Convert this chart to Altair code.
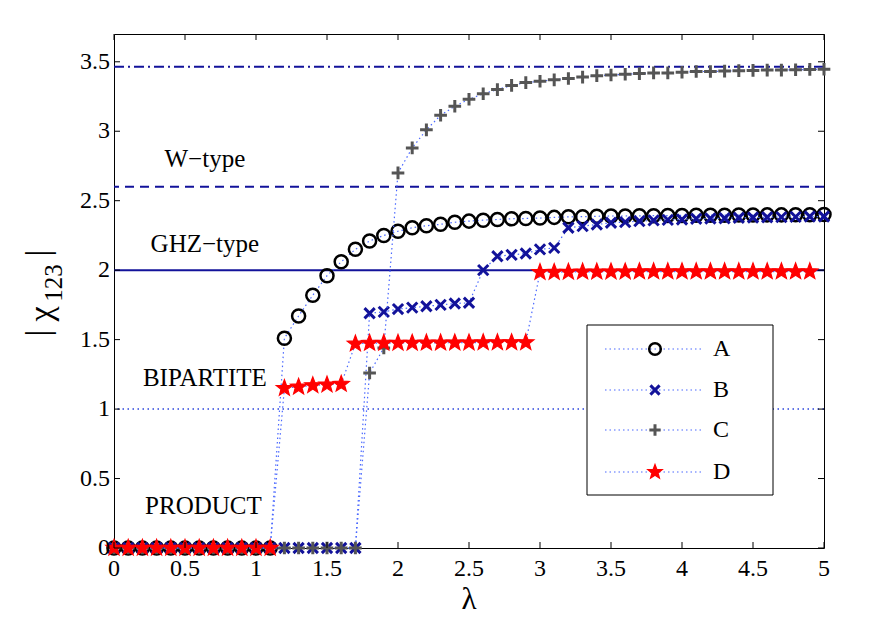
import math
import altair as alt
import pandas as pd

# ---------------- data ----------------
lam = [0.0, 0.1, 0.2, 0.3, 0.4, 0.5, 0.6, 0.7, 0.8, 0.9,
       1.0, 1.1, 1.2, 1.3, 1.4, 1.5, 1.6, 1.7, 1.8, 1.9,
       2.0, 2.1, 2.2, 2.3, 2.4, 2.5, 2.6, 2.7, 2.8, 2.9,
       3.0, 3.1, 3.2, 3.3, 3.4, 3.5, 3.6, 3.7, 3.8, 3.9,
       4.0, 4.1, 4.2, 4.3, 4.4, 4.5, 4.6, 4.7, 4.8, 4.9, 5.0]

series_A = [0, 0, 0, 0, 0, 0, 0, 0, 0, 0, 0, 0,
            1.51, 1.67, 1.82, 1.96, 2.06, 2.15, 2.21, 2.25, 2.28, 2.305,
            2.32, 2.33, 2.345, 2.353, 2.36, 2.365, 2.37, 2.372, 2.375, 2.38,
            2.384, 2.385, 2.388, 2.39, 2.39, 2.391, 2.392, 2.393, 2.394, 2.395,
            2.396, 2.396, 2.397, 2.397, 2.398, 2.398, 2.399, 2.399, 2.40]

series_B = [0, 0, 0, 0, 0, 0, 0, 0, 0, 0, 0, 0, 0, 0, 0, 0, 0, 0,
            1.69, 1.70, 1.72, 1.73, 1.74, 1.75, 1.76, 1.765,
            2.00, 2.10, 2.11, 2.12, 2.15, 2.16,
            2.305, 2.317, 2.329, 2.341, 2.346, 2.353, 2.358, 2.362, 2.365, 2.370,
            2.372, 2.374, 2.377, 2.379, 2.381, 2.382, 2.384, 2.386, 2.386]

series_C = [0, 0, 0, 0, 0, 0, 0, 0, 0, 0, 0, 0, 0, 0, 0, 0, 0, 0,
            1.26, 1.44, 2.70, 2.88, 3.01, 3.115, 3.18, 3.23, 3.27, 3.30,
            3.33, 3.35, 3.36, 3.37, 3.38, 3.39, 3.40, 3.405, 3.41, 3.415,
            3.42, 3.42, 3.425, 3.43, 3.43, 3.433, 3.436, 3.438, 3.44, 3.44,
            3.443, 3.445, 3.446]

series_D = [0, 0, 0, 0, 0, 0, 0, 0, 0, 0, 0, 0,
            1.15, 1.16, 1.17, 1.175, 1.18,
            1.47, 1.475, 1.475, 1.476, 1.476, 1.477, 1.477, 1.478, 1.478, 1.479,
            1.479, 1.48, 1.48,
            1.985, 1.986, 1.987, 1.988, 1.988, 1.989, 1.989, 1.99, 1.99, 1.99,
            1.99, 1.99, 1.99, 1.99, 1.99, 1.99, 1.99, 1.99, 1.99, 1.99]

series_names = ["A", "B", "C", "D"]

ref_levels = [3.464, 2.6, 2.0, 1.0]   # dash-dot, dashed, solid, dotted

ann_text = ["W\u2212type", "GHZ\u2212type", "BIPARTITE", "PRODUCT"]
ann_x = [0.64, 0.64, 0.64, 0.63]
ann_y = [2.80, 2.185, 1.226, 0.303]

x_ticks = [0, 0.5, 1, 1.5, 2, 2.5, 3, 3.5, 4, 4.5, 5]
x_tick_labels = ["0", "0.5", "1", "1.5", "2", "2.5", "3", "3.5", "4", "4.5", "5"]
y_ticks = [0, 0.5, 1, 1.5, 2, 2.5, 3, 3.5]
y_tick_labels = ["0", "0.5", "1", "1.5", "2", "2.5", "3", "3.5"]

x_title = "\u03bb"
y_title_parts = ["|", "\u03c7", "123", "|"]

# ---------------- styling ----------------
W, H = 710, 514
FONT = "Liberation Serif"
NAVY = "#12129a"
DOT_BLUE = "#4a68ff"

xs = alt.Scale(domain=[0, 5], nice=False, zero=False)
ys = alt.Scale(domain=[0, 3.7], nice=False, zero=False)


def X(field):
    return alt.X(field, type="quantitative", scale=xs, axis=None)


def Y(field):
    return alt.Y(field, type="quantitative", scale=ys, axis=None)


# marker paths
star_pts = []
for k in range(10):
    a = math.radians(-90 + 36 * k)
    r = 1.0 if k % 2 == 0 else 0.42
    star_pts.append(f"{r * math.cos(a):.3f},{r * math.sin(a):.3f}")
STAR = "M" + "L".join(star_pts) + "Z"
XMARK = "M-1,-1L1,1M-1,1L1,-1"
PLUS = "M-1,0L1,0M0,-1L0,1"

marker_style = {
    "A": dict(shape="circle", filled=False, stroke="black", strokeWidth=2.5, size=170),
    "B": dict(shape=XMARK, filled=False, stroke=NAVY, strokeWidth=3, size=105),
    "C": dict(shape=PLUS, filled=False, stroke="#555555", strokeWidth=3, size=160),
    "D": dict(shape=STAR, filled=True, fill="#ff0000", stroke="#ff0000", strokeWidth=1.2, size=290),
}

values = {"A": series_A, "B": series_B, "C": series_C, "D": series_D}

layers = []

# reference lines
ref_styles = [
    dict(color=NAVY, strokeWidth=2, strokeDash=[10, 4, 2, 4]),
    dict(color=NAVY, strokeWidth=2, strokeDash=[9, 6]),
    dict(color=NAVY, strokeWidth=2),
    dict(color="#2a44dd", strokeWidth=1.5, strokeDash=[1.5, 3.5]),
]
for lev, st in zip(ref_levels, ref_styles):
    layers.append(alt.Chart(pd.DataFrame({"v": [lev]})).mark_rule(**st).encode(y=Y("v")))

# series
for name in series_names:
    vals = values[name]
    df = pd.DataFrame({"lam": lam[:len(vals)], "val": vals})
    layers.append(alt.Chart(df).mark_line(color=DOT_BLUE, strokeWidth=1.2,
                                          strokeDash=[1.5, 3]).encode(x=X("lam"), y=Y("val")))
    layers.append(alt.Chart(df).mark_point(opacity=1, **marker_style[name]).encode(x=X("lam"), y=Y("val")))

# annotations
ann_df = pd.DataFrame({"t": ann_text, "ax": ann_x, "ay": ann_y})
layers.append(alt.Chart(ann_df).mark_text(font=FONT, fontSize=25, color="black",
                                          align="center", baseline="middle").encode(
    x=X("ax"), y=Y("ay"), text="t:N"))

# inward ticks
xt = pd.DataFrame({"t": x_ticks, "lab": x_tick_labels})
yt = pd.DataFrame({"t": y_ticks, "lab": y_tick_labels})
tk = dict(color="black", strokeWidth=1)
layers.append(alt.Chart(xt).mark_rule(**tk).encode(x=X("t"), y=alt.value(H), y2=alt.value(H - 6)))
layers.append(alt.Chart(xt).mark_rule(**tk).encode(x=X("t"), y=alt.value(0), y2=alt.value(6)))
layers.append(alt.Chart(yt).mark_rule(**tk).encode(y=Y("t"), x=alt.value(0), x2=alt.value(6)))
layers.append(alt.Chart(yt).mark_rule(**tk).encode(y=Y("t"), x=alt.value(W), x2=alt.value(W - 6)))

# tick labels
layers.append(alt.Chart(xt).mark_text(font=FONT, fontSize=24, color="black",
                                      align="center", baseline="middle").encode(
    x=X("t"), y=alt.value(H + 21), text="lab:N"))
layers.append(alt.Chart(yt).mark_text(font=FONT, fontSize=24, color="black",
                                      align="right", baseline="middle").encode(
    y=Y("t"), x=alt.value(-4), text="lab:N"))

# axis titles
one = pd.DataFrame({"k": [0]})
layers.append(alt.Chart(pd.DataFrame({"t": [x_title]})).mark_text(
    font=FONT, fontSize=31, color="black", align="center", baseline="middle").encode(
    x=alt.value(W / 2), y=alt.value(H + 52), text="t:N"))

title_pos = [(-75, 299, 34), (-72, 280, 34), (-60, 249, 25), (-75, 219, 34)]
for part, (tx, ty, fs) in zip(y_title_parts, title_pos):
    layers.append(alt.Chart(pd.DataFrame({"t": [part]})).mark_text(
        font=FONT, fontSize=fs, color="black", angle=270,
        align="center", baseline="middle").encode(
        x=alt.value(tx), y=alt.value(ty), text="t:N"))

# legend (manual box)
LX0, LX1, LY0, LY1 = 473, 659, 291, 461
layers.append(alt.Chart(one).mark_rect(fill="white", stroke="black", strokeWidth=1).encode(
    x=alt.value(LX0), x2=alt.value(LX1), y=alt.value(LY0), y2=alt.value(LY1)))
row_y = [315, 356, 396, 438]
for name, ry in zip(series_names, row_y):
    layers.append(alt.Chart(one).mark_rule(color=DOT_BLUE, strokeWidth=1.2, strokeDash=[1.5, 3]).encode(
        x=alt.value(491), x2=alt.value(588), y=alt.value(ry)))
    leg_style = dict(marker_style[name])
    leg_style["size"] = int(leg_style["size"] * 0.8)
    layers.append(alt.Chart(one).mark_point(opacity=1, **leg_style).encode(
        x=alt.value(541), y=alt.value(ry)))
    layers.append(alt.Chart(pd.DataFrame({"t": [name]})).mark_text(
        font=FONT, fontSize=24, color="black", align="left", baseline="middle").encode(
        x=alt.value(599), y=alt.value(ry), text="t:N"))

chart = alt.layer(*layers).properties(
    width=W, height=H,
    autosize=alt.AutoSizeParams(type="none"),
    padding={"left": 106, "top": 26, "right": 50, "bottom": 76},
    background="white",
).configure_view(stroke="black", strokeWidth=1).configure_text(font=FONT)

chart.save("out.html", embed_options={"renderer": "svg", "actions": False})
